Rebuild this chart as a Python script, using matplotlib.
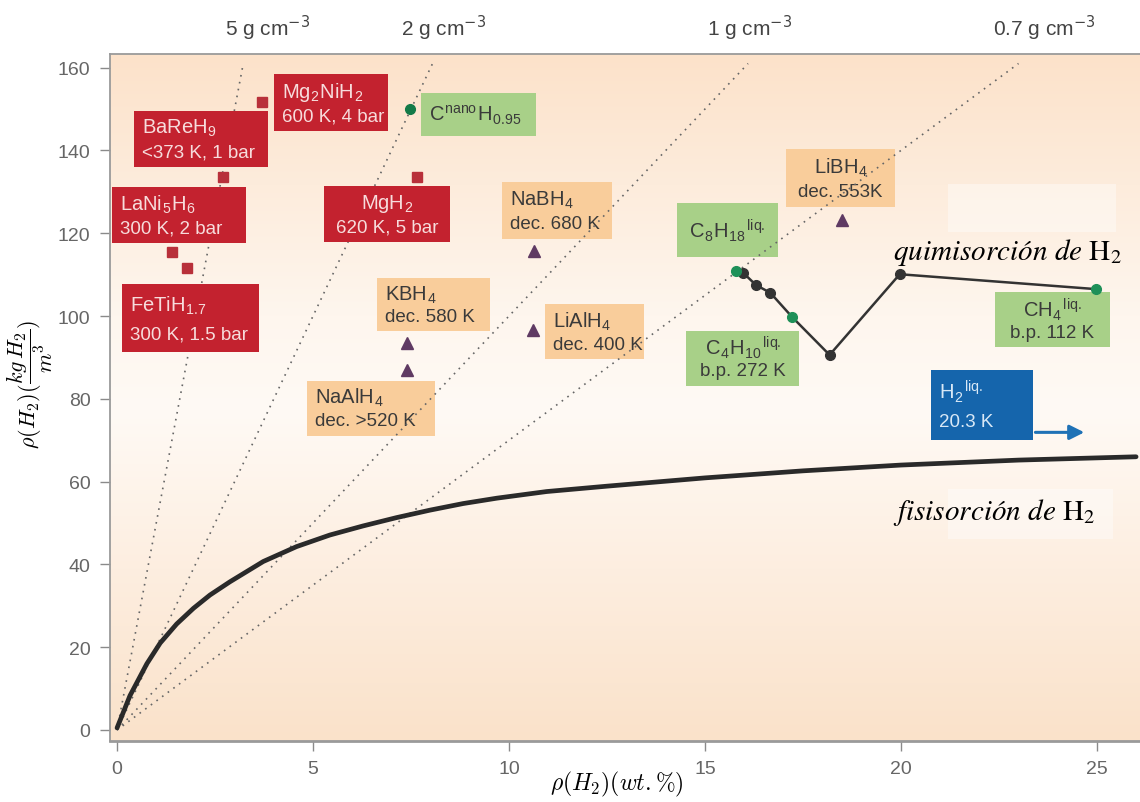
import numpy as np
import matplotlib
matplotlib.use('Agg')
import matplotlib.pyplot as plt
from matplotlib.patches import Rectangle, FancyArrowPatch
from matplotlib.colors import LinearSegmentedColormap

plt.rcParams['font.family'] = ['Liberation Sans', 'DejaVu Sans']
plt.rcParams['mathtext.fontset'] = 'cm'

# ---------------- data ----------------
# physisorption curve
physi_x = [0, 0.33, 0.76, 1.10, 1.52, 1.95, 2.37, 2.88, 3.73, 4.58, 5.43, 6.28, 7.13, 7.98,
           8.83, 9.69, 10.96, 12.5, 15, 17.5, 20, 23, 26]
physi_y = [0.5, 8.3, 16.0, 21.0, 25.6, 29.4, 32.6, 35.8, 40.7, 44.3, 47.1, 49.3, 51.3, 53.1,
           54.7, 56.0, 57.6, 58.9, 60.9, 62.6, 64.0, 65.2, 66.0]

# chemisorption (hydrocarbons) line
chem_x = [15.8, 15.98, 16.3, 16.67, 17.23, 18.18, 19.97, 24.98]
chem_y = [110.9, 110.4, 107.5, 105.6, 99.7, 90.6, 110.1, 106.5]
chem_green = [True, False, False, False, True, False, False, True]

# metal hydrides (squares)
hyd_x = [3.71, 2.71, 1.41, 1.78, 7.66]
hyd_y = [151.8, 133.6, 115.4, 111.7, 133.6]

# complex hydrides (triangles)
cplx_x = [7.39, 7.39, 10.63, 10.60, 18.5]
cplx_y = [93.6, 87.0, 115.8, 96.6, 123.2]

# nano carbon
carb_x = [7.48]
carb_y = [150.0]

# iso-density lines (g/cm3)
densities = [5, 2, 1, 0.7]
density_labels = ['5 g cm$^{-3}$', '2 g cm$^{-3}$', '1 g cm$^{-3}$', '0.7 g cm$^{-3}$']

x_ticks = [0, 5, 10, 15, 20, 25]
y_ticks = [0, 20, 40, 60, 80, 100, 120, 140, 160]

# ---------------- figure ----------------
fig = plt.figure(figsize=(11.4, 8.03), dpi=100)
ax = fig.add_axes([110/1140, 61/803, 1030/1140, 687/803])
XL = (-0.18, 26.1)
YL = (-2.66, 163.3)
ax.set_xlim(*XL)
ax.set_ylim(*YL)

# background gradient
cmap = LinearSegmentedColormap.from_list('bg', [(0.0, '#FAE2CA'), (0.25, '#FDEEE0'),
                                                (0.48, '#FFFAF5'), (0.62, '#FEF6EE'),
                                                (1.0, '#FCE2CA')])
grad = np.linspace(0, 1, 256).reshape(-1, 1)
ax.imshow(grad, cmap=cmap, extent=[XL[0], XL[1], YL[0], YL[1]], aspect='auto',
          origin='lower', zorder=0, interpolation='bicubic')

# faint light patches (editing artifacts in original)
for (x0, x1, y0, y1) in [(21.2, 25.5, 120.3, 131.9), (21.2, 25.4, 46.1, 58.2)]:
    ax.add_patch(Rectangle((x0, y0), x1 - x0, y1 - y0, fc='white', ec='none', alpha=0.4, zorder=0.5))

# boxes helper
def box(x0, x1, ytop, ybot, lines, fc, tc, z, ha='left', fs=(14.5, 13.5)):
    ax.add_patch(Rectangle((x0, ybot), x1 - x0, ytop - ybot, fc=fc, ec='none', zorder=z))
    h = ytop - ybot
    if ha == 'left':
        tx = x0 + 0.2
    else:
        tx = (x0 + x1) / 2
    if len(lines) == 1:
        ax.text(tx, ytop - 0.5 * h, lines[0], ha=ha, va='center', color=tc, fontsize=fs[0], zorder=z + 0.1)
    else:
        ax.text(tx, ytop - 0.30 * h, lines[0], ha=ha, va='center', color=tc, fontsize=fs[0], zorder=z + 0.1)
        ax.text(tx, ytop - 0.73 * h, lines[1], ha=ha, va='center', color=tc, fontsize=fs[1], zorder=z + 0.1)

RED, RED_T = '#C3222F', '#F7DCDC'
ORG, ORG_T = '#F9CD9B', '#3A3A3A'
GRN, GRN_T = '#A8D088', '#3A3A3A'
BLU, BLU_T = '#1565AC', '#D8E8F6'

# orange / green boxes (under dotted lines)
box(9.82, 12.63, 132.4, 118.6, ['NaBH$_\\mathregular{4}$', 'dec. 680 K'], ORG, ORG_T, 1)
box(6.63, 9.52, 109.1, 96.4, ['KBH$_\\mathregular{4}$', 'dec. 580 K'], ORG, ORG_T, 1)
box(10.92, 13.45, 102.9, 89.6, ['LiAlH$_\\mathregular{4}$', 'dec. 400 K'], ORG, ORG_T, 1)
box(4.84, 8.11, 84.4, 71.1, ['NaAlH$_\\mathregular{4}$', 'dec. >520 K'], ORG, ORG_T, 1)
box(17.07, 19.85, 140.3, 126.3, ['LiBH$_\\mathregular{4}$', 'dec. 553K'], ORG, ORG_T, 1, ha='center')
box(7.76, 10.68, 153.8, 143.5, ['C$^\\mathregular{nano}$H$_\\mathregular{0.95}$'], GRN, GRN_T, 1)
box(14.29, 16.86, 127.3, 114.3, ['C$_\\mathregular{8}$H$_\\mathregular{18}$$^\\mathregular{liq.}$'], GRN, GRN_T, 1, ha='center')
box(14.52, 17.41, 96.5, 83.2, ['C$_\\mathregular{4}$H$_\\mathregular{10}$$^\\mathregular{liq.}$', 'b.p. 272 K'], GRN, GRN_T, 1, ha='center')
box(22.4, 25.33, 105.9, 92.4, ['CH$_\\mathregular{4}$$^\\mathregular{liq.}$', 'b.p. 112 K'], GRN, GRN_T, 1, ha='center')

# dotted iso-density lines
for d in densities:
    slope = d * 10.0
    xe = min(161.0 / slope, XL[1])
    ax.plot([0, xe], [0, slope * xe], linestyle=(0, (1, 3.2)), color='#666666', lw=1.2, zorder=2)

# red boxes (cover dotted lines)
box(4.01, 6.91, 158.5, 144.7, ['Mg$_\\mathregular{2}$NiH$_\\mathregular{2}$', '600 K, 4 bar'], RED, RED_T, 3)
box(0.43, 3.85, 149.6, 135.9, ['BaReH$_\\mathregular{9}$', '<373 K, 1 bar'], RED, RED_T, 3)
box(-0.13, 3.29, 131.2, 117.6, ['LaNi$_\\mathregular{5}$H$_\\mathregular{6}$', '300 K, 2 bar'], RED, RED_T, 3)
box(0.12, 3.61, 107.7, 91.2, ['FeTiH$_\\mathregular{1.7}$', '300 K, 1.5 bar'], RED, RED_T, 3)
box(5.29, 8.5, 131.5, 117.8, ['MgH$_\\mathregular{2}$', '620 K, 5 bar'], RED, RED_T, 3, ha='center')

# blue liquid H2 box with arrow
box(20.76, 23.36, 87.0, 70.0, ['H$_\\mathregular{2}$$^\\mathregular{liq.}$', '20.3 K'], BLU, BLU_T, 3)
ax.add_patch(FancyArrowPatch((23.36, 71.9), (24.75, 71.9), arrowstyle='-|>', mutation_scale=22,
                             color='#1F72B6', lw=2.2, zorder=3))

# physisorption curve
ax.plot(physi_x, physi_y, color='#2a2a2a', lw=3.4, zorder=4, solid_capstyle='round',
        solid_joinstyle='round')

# chemisorption line
ax.plot(chem_x, chem_y, color='#333333', lw=1.8, zorder=4)
gx = [x for x, g in zip(chem_x, chem_green) if g]
gy = [y for y, g in zip(chem_y, chem_green) if g]
kx = [x for x, g in zip(chem_x, chem_green) if not g]
ky = [y for y, g in zip(chem_y, chem_green) if not g]
ax.plot(kx, ky, 'o', color='#333333', ms=7, zorder=5)
ax.plot(gx, gy, 'o', color='#1E9058', ms=7, zorder=5)

# markers
ax.plot(hyd_x, hyd_y, 's', color='#B8303A', ms=7, zorder=5)
ax.plot(cplx_x, cplx_y, '^', color='#5F3A63', ms=8, zorder=5)
ax.plot(carb_x, carb_y, 'o', color='#137A48', ms=7, zorder=5)

# top density labels
lab_x = [3.85, 8.32, 16.15, 23.67]
for lx, t in zip(lab_x, density_labels):
    ax.text(lx, 1.039, t, transform=ax.get_xaxis_transform(), ha='center', va='center',
            fontsize=15, color='#444444', math_fontfamily='dejavusans')

# sorption labels
ax.text(19.8, 115.7, 'quimisorción de $\\mathrm{H}_2$', fontsize=21, family='STIXGeneral',
        style='italic', ha='left', va='center', color='black', math_fontfamily='stix', zorder=6)
ax.text(19.8, 52.9, 'fisisorción de $\\mathrm{H}_2$', fontsize=21, family='STIXGeneral',
        style='italic', ha='left', va='center', color='black', math_fontfamily='stix', zorder=6)

# axes styling
ax.set_xticks(x_ticks)
ax.set_yticks(y_ticks)
ax.tick_params(axis='both', colors='#8a8a8a', labelcolor='#666666', labelsize=14,
               length=7, width=1, direction='out', pad=7)
for s in ['left', 'bottom', 'top']:
    ax.spines[s].set_color('#9a9a9a')
    ax.spines[s].set_linewidth(1.3)
ax.spines['bottom'].set_linewidth(2.0)
ax.spines['right'].set_visible(False)

ax.set_xlabel(r'$\rho(H_2)(wt.\%)$', fontsize=17, math_fontfamily='cm')
ax.xaxis.set_label_coords(0.492, -0.041)
ax.set_ylabel(r'$\rho(H_2)(\dfrac{kg\,H_2}{m^3})$', fontsize=16, math_fontfamily='cm')
ax.yaxis.set_label_coords(-0.053, 0.52)

fig.savefig('out.png', dpi=100)
